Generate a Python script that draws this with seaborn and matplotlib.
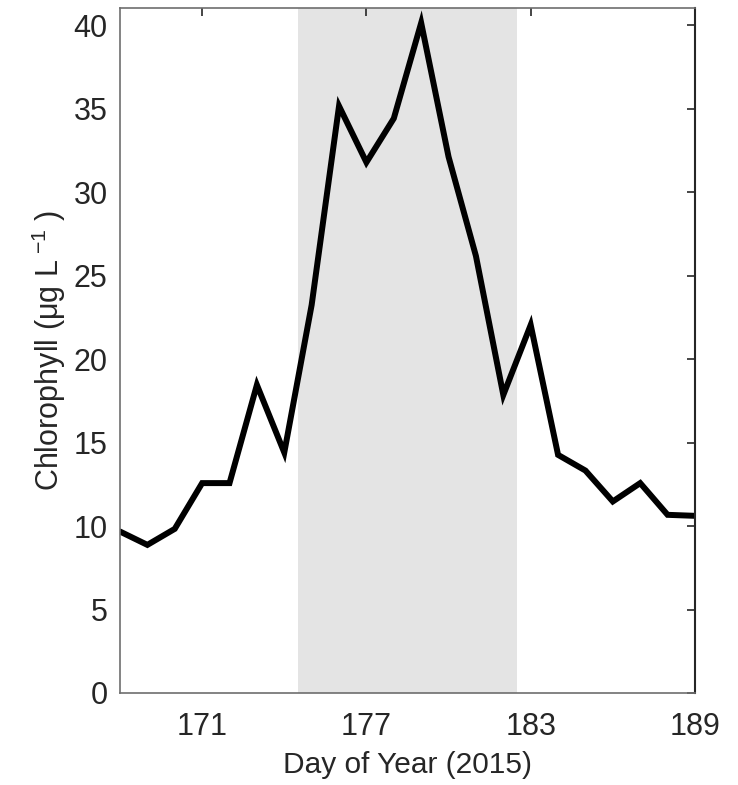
import matplotlib
matplotlib.use("Agg")
import matplotlib.pyplot as plt
import seaborn as sns
import pandas as pd

days = [168, 169, 170, 171, 172, 173, 174, 175, 176, 177, 178,
        179, 180, 181, 182, 183, 184, 185, 186, 187, 188, 189]
chlorophyll = [9.67, 8.87, 9.83, 12.57, 12.57, 18.45, 14.40, 23.24, 35.15, 31.78, 34.41,
               40.13, 32.11, 26.17, 17.85, 22.04, 14.26, 13.32, 11.47, 12.57, 10.67, 10.61]
shade_span = [174.5, 182.5]
xticks = [171, 177, 183, 189]
yticks = [0, 5, 10, 15, 20, 25, 30, 35, 40]

sns.set_theme(style="white")
plt.rcParams['font.family'] = ['Liberation Sans', 'DejaVu Sans']
plt.rcParams['mathtext.fontset'] = 'custom'
plt.rcParams['mathtext.rm'] = 'Liberation Sans'

df = pd.DataFrame({"day": days, "chl": chlorophyll})

fig = plt.figure(figsize=(7.38, 7.85), dpi=100)
ax = fig.add_axes([0.1626, 0.1172, 0.9417 - 0.1626, 0.9904 - 0.1172])

ax.axvspan(shade_span[0], shade_span[1], color="#e4e4e4", lw=0, zorder=0)
sns.lineplot(data=df, x="day", y="chl", ax=ax, color="black", linewidth=4.3,
             solid_joinstyle="miter", zorder=3)

ax.set_xlim(168, 189)
ax.set_ylim(0, 41.05)
ax.set_xticks(xticks)
ax.set_yticks(yticks)
ax.set_xlabel("Day of Year (2015)", fontsize=21.5, color="#262626", labelpad=6)
ax.set_ylabel("Chlorophyll (μg L$^{\\;\\mathregular{-1}}$ )",
              fontsize=22, color="#262626", labelpad=4)
ax.tick_params(axis="both", which="both", direction="in", length=6, width=1.2,
               labelsize=22, colors="#262626", top=True, right=True)
ax.tick_params(axis="x", pad=14)
ax.tick_params(axis="y", pad=9)

for side in ["left", "bottom", "top"]:
    ax.spines[side].set_color("#6e6e6e")
    ax.spines[side].set_linewidth(1.2)
ax.spines["right"].set_color("#262626")
ax.spines["right"].set_linewidth(1.5)
for side in ax.spines:
    ax.spines[side].set_visible(True)
    ax.spines[side].set_zorder(5)

fig.savefig("out.png", dpi=100)
